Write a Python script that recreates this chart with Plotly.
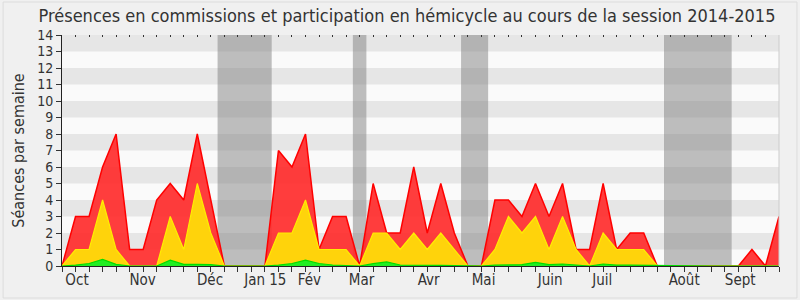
import plotly.graph_objects as go

weeks = list(range(54))

total = [0, 3, 3, 6, 8, 1, 1, 4, 5, 4, 8, 4, 0, 0, 0, 0, 7, 6, 8, 1,
         3, 3, 0, 5, 2, 2, 6, 2, 5, 2, 0, 0, 4, 4, 3, 5, 3, 5, 1, 1,
         5, 1, 2, 2, 0, 0, 0, 0, 0, 0, 0, 1, 0, 3]
hemicycle = [0, 1, 1, 4, 1, 0, 0, 0, 3, 1, 5, 2, 0, 0, 0, 0, 2, 2, 4, 1,
             1, 1, 0, 2, 2, 1, 2, 1, 2, 1, 0, 0, 1, 3, 2, 3, 1, 3, 1, 0,
             2, 1, 1, 1, 0, 0, 0, 0, 0, 0, 0, 0, 0, 0]
interventions = [0, 0.05, 0.15, 0.4, 0.1, 0, 0, 0, 0.35, 0.1, 0.1, 0.08, 0, 0, 0, 0, 0.05, 0.15, 0.35, 0.15,
                 0.06, 0.03, 0, 0.14, 0.25, 0.06, 0.04, 0.04, 0.04, 0.03, 0, 0, 0.05, 0.05, 0.08, 0.22, 0.08, 0.12, 0.04, 0,
                 0.12, 0.05, 0.05, 0.04, 0, 0, 0, 0, 0, 0, 0, 0, 0, 0]

month_labels = ["Oct", "Nov", "Déc", "Jan 15", "Fév", "Mar", "Avr", "Mai", "Juin", "Juil", "Août", "Sept"]
month_pos = [1.11, 5.96, 10.94, 15.03, 18.28, 22.14, 27.1, 31.16, 36.09, 39.93, 45.99, 50.13]

vacations = [(11.5, 15.5), (21.5, 22.5), (29.5, 31.5), (44.5, 49.5)]

FONT = "DejaVu Sans Condensed, DejaVu Sans, sans-serif"

fig = go.Figure()
fig.add_trace(go.Scatter(x=weeks, y=total, mode="lines", fill="tozeroy",
                         line=dict(color="#ff0000", width=1.5), fillcolor="rgba(255,40,40,0.9)",
                         hoverinfo="skip", showlegend=False))
fig.add_trace(go.Scatter(x=weeks, y=hemicycle, mode="lines", fill="tozeroy",
                         line=dict(color="#ffee00", width=1.2), fillcolor="#ffd30b",
                         hoverinfo="skip", showlegend=False))
fig.add_trace(go.Scatter(x=weeks, y=interventions, mode="lines", fill="tozeroy",
                         line=dict(color="#00dd00", width=1.2), fillcolor="#22ee22",
                         hoverinfo="skip", showlegend=False))
fig.add_trace(go.Scatter(x=[0, 53], y=[None, None], xaxis="x2", mode="lines",
                         hoverinfo="skip", showlegend=False))

shapes = []
for k in range(14):
    shapes.append(dict(type="rect", xref="paper", yref="y", x0=0, x1=1, y0=k, y1=k + 1,
                       fillcolor="#e6e6e6" if k % 2 == 1 else "#fafafa",
                       line=dict(width=0), layer="below"))
for a, b in vacations:
    shapes.append(dict(type="rect", xref="x", yref="paper", x0=a, x1=b, y0=0, y1=1,
                       fillcolor="rgba(128,128,128,0.5)", line=dict(width=0), layer="below"))
shapes.append(dict(type="line", xref="paper", yref="paper", x0=1, x1=1, y0=0, y1=1,
                   line=dict(color="#cccccc", width=1)))
shapes.append(dict(type="rect", xref="paper", yref="paper", x0=-0.0821, x1=1.025, y0=-0.1385, y1=1.1429,
                   line=dict(color="#dcdcdc", width=1)))

fig.update_layout(
    width=800, height=300,
    margin=dict(l=62, r=21, t=35, b=34),
    paper_bgcolor="#f0f0f0", plot_bgcolor="#fafafa",
    shapes=shapes,
    title=dict(text="Présences en commissions et participation en hémicycle au cours de la session 2014-2015",
               x=407 / 800, xanchor="center", xref="container", y=1 - 16 / 300, yanchor="middle", yref="container",
               font=dict(family=FONT, size=18, color="#333333")),
    xaxis=dict(range=[0, 53], tickmode="array", tickvals=month_pos, ticktext=month_labels,
               ticks="", showgrid=False, zeroline=False, showline=True, linecolor="#222222", linewidth=1,
               tickfont=dict(family=FONT, size=15, color="#333333"),
               minor=dict(tickmode="linear", tick0=0, dtick=1, ticks="outside", ticklen=5,
                          tickcolor="#333333", showgrid=False)),
    xaxis2=dict(range=[0, 53], overlaying="x", side="top", showticklabels=False, showgrid=False,
                zeroline=False, showline=False, tickmode="linear", tick0=0, dtick=1,
                ticks="inside", ticklen=2, tickcolor="#333333"),
    yaxis=dict(range=[0, 14], tickmode="linear", tick0=0, dtick=1, ticks="outside", ticklen=5,
               tickcolor="#333333", showgrid=False, zeroline=False, showline=True,
               linecolor="#222222", linewidth=1,
               tickfont=dict(family=FONT, size=14, color="#333333"),
               title=dict(text="Séances par semaine", standoff=8,
                          font=dict(family=FONT, size=16, color="#333333"))),
)

fig.write_html("out.html")
